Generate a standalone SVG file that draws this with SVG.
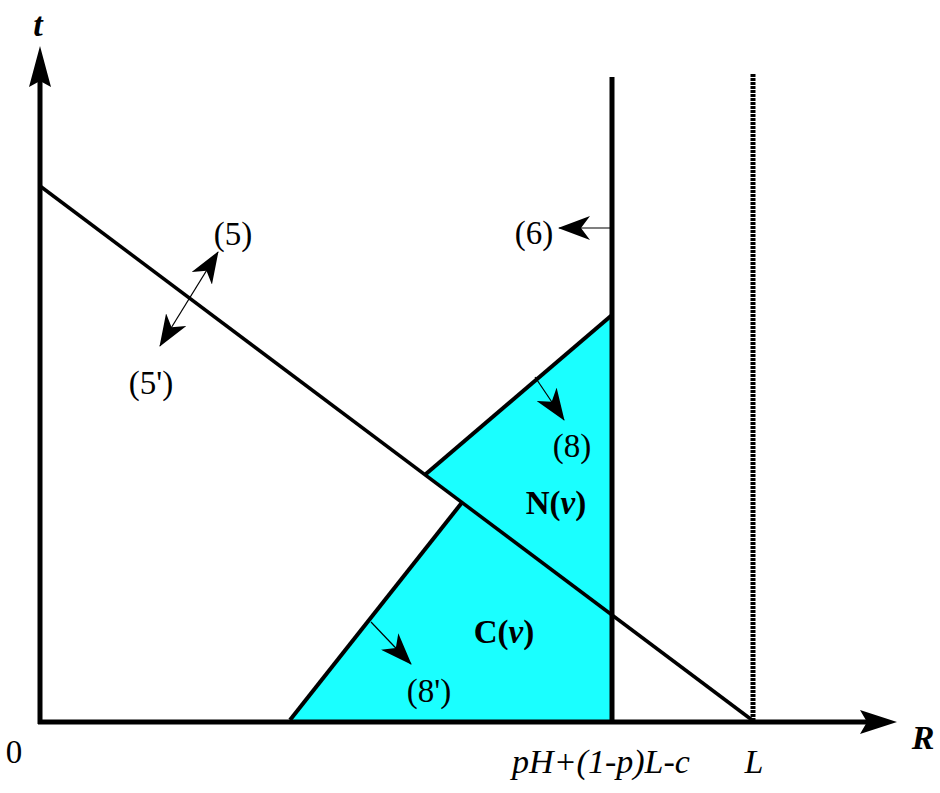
<svg xmlns="http://www.w3.org/2000/svg" width="940" height="793" viewBox="0 0 940 793">
<defs>
<style>
.lbl{font-family:"Liberation Serif","Times New Roman",serif;font-size:33px;fill:#000}
.big{font-size:34px}
.it{font-style:italic}
.bd{font-weight:bold}
.thin{stroke:#000;stroke-width:1.2;fill:none}
</style>
<marker id="ah" viewBox="0 0 32 24" refX="31" refY="12" markerWidth="32" markerHeight="24" markerUnits="userSpaceOnUse" orient="auto-start-reverse">
<path d="M32,12 L0,0 L9,12 L0,24 Z" fill="#000"/>
</marker>
</defs>
<rect width="940" height="793" fill="#fff"/>
<g id="region">
<polygon points="290,720 462,502.5 425,474.75 612,315 612,720" fill="#1affff"/>
</g>
<g id="lines" stroke="#000" fill="none">
<line x1="40" y1="186" x2="752" y2="720" stroke-width="3.5"/>
<line x1="290" y1="720" x2="462" y2="502.5" stroke-width="4"/>
<line x1="425" y1="474.75" x2="612" y2="315" stroke-width="4"/>
<line x1="612" y1="77" x2="612" y2="722" stroke-width="5"/>
<line x1="753" y1="74" x2="753" y2="720" stroke-width="5" stroke-dasharray="3 1"/>
</g>
<g id="axes">
<line x1="40" y1="80" x2="40" y2="724" stroke="#000" stroke-width="5"/>
<path d="M40,46 L51,87 L40,81 L29,87 Z" fill="#000"/>
<line x1="38" y1="722" x2="870" y2="722" stroke="#000" stroke-width="5"/>
<path d="M897,722 L860,710 L867,722 L860,734 Z" fill="#000"/>
</g>
<g id="connectors">
<line class="thin" x1="160" y1="346" x2="218" y2="252" marker-start="url(#ah)" marker-end="url(#ah)"/>
<line class="thin" x1="612" y1="228" x2="559" y2="228" marker-end="url(#ah)"/>
<line class="thin" x1="535" y1="377" x2="564" y2="420" marker-end="url(#ah)"/>
<line class="thin" x1="371" y1="622" x2="411" y2="664" marker-end="url(#ah)"/>
</g>
<g id="labels">
<text class="lbl big it bd" x="38" y="36" text-anchor="middle">t</text>
<text class="lbl" x="14" y="763" text-anchor="middle">0</text>
<text class="lbl big it bd" x="923" y="749" text-anchor="middle">R</text>
<text class="lbl big it" x="754" y="773" text-anchor="middle">L</text>
<text class="lbl big it" x="601" y="773" text-anchor="middle">pH+(1-p)L-c</text>
<text class="lbl" x="233" y="245" text-anchor="middle">(5)</text>
<text class="lbl" x="151" y="394" text-anchor="middle">(5')</text>
<text class="lbl" x="534" y="244" text-anchor="middle">(6)</text>
<text class="lbl" x="572" y="457" text-anchor="middle">(8)</text>
<text class="lbl bd" x="556" y="514" text-anchor="middle">N(<tspan class="it">v</tspan>)</text>
<text class="lbl bd" x="504" y="643" text-anchor="middle">C(<tspan class="it">v</tspan>)</text>
<text class="lbl" x="429" y="702" text-anchor="middle">(8')</text>
</g>
</svg>
